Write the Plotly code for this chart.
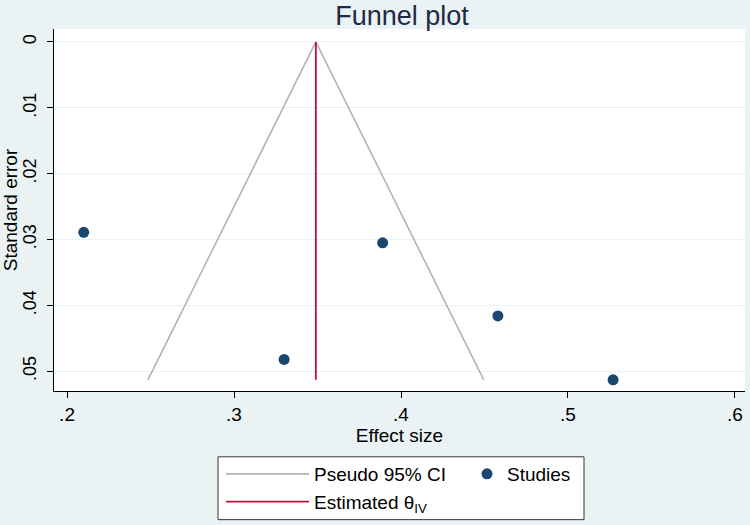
import plotly.graph_objects as go

# Data
effect_size = [0.210, 0.330, 0.389, 0.458, 0.527]
std_error = [0.0289, 0.0482, 0.0305, 0.0416, 0.0513]
theta_iv = 0.349
z95 = 1.96

x_tickvals = [0.2, 0.3, 0.4, 0.5, 0.6]
x_ticktext = [".2", ".3", ".4", ".5", ".6"]
y_tickvals = [0, 0.01, 0.02, 0.03, 0.04, 0.05]
y_ticktext = ["0", ".01", ".02", ".03", ".04", ".05"]

se_max = max(std_error)
ci_x = [theta_iv - z95 * se_max, theta_iv, theta_iv + z95 * se_max]
ci_y = [se_max, 0, se_max]

FONT = "Liberation Sans, Arial, sans-serif"
BG = "#eaf2f3"

fig = go.Figure()
fig.add_trace(go.Scatter(
    x=ci_x, y=ci_y, mode="lines", name="Pseudo 95% CI",
    line=dict(color="#b4b4b4", width=1.6), legend="legend"))
fig.add_trace(go.Scatter(
    x=[theta_iv, theta_iv], y=[0, se_max], mode="lines",
    name="Estimated θ<sub>IV</sub>",
    line=dict(color="#c0103a", width=1.8), legend="legend"))
fig.add_trace(go.Scatter(
    x=effect_size, y=std_error, mode="markers", name="Studies",
    marker=dict(color="#1a476f", size=11), legend="legend2"))

L, R, T, B = 54, 5, 29, 133
W, H = 750, 525
pw, ph = W - L - R, H - T - B

def px(xp):
    return (xp - L) / pw

def py(yp):
    return (H - B - yp) / ph

fig.update_layout(
    width=W, height=H,
    margin=dict(l=L, r=R, t=T, b=B),
    paper_bgcolor=BG, plot_bgcolor="white",
    font=dict(family=FONT, color="black", size=19),
    title=dict(text="Funnel plot", x=402 / W, xanchor="center", xref="container",
               y=1 - 16 / H, yanchor="middle", yref="container",
               font=dict(size=27, color="#1e2a47", family=FONT)),
    xaxis=dict(range=[0.1922, 0.606], tickvals=x_tickvals, ticktext=x_ticktext,
               showgrid=False, zeroline=False, showline=True, linecolor="black",
               linewidth=1, ticks="outside", ticklen=6, tickcolor="black",
               tickfont=dict(size=19),
               title=dict(text="Effect size", font=dict(size=19), standoff=0)),
    yaxis=dict(range=[0.053, -0.00197], tickvals=y_tickvals, ticktext=y_ticktext,
               showgrid=True, gridcolor=BG, gridwidth=1, zeroline=False,
               showline=True, linecolor="black", linewidth=1, ticks="outside",
               ticklen=6, tickcolor="black", tickangle=-90,
               ticklabelstandoff=4,
               tickfont=dict(size=18),
               title=dict(text="Standard error", font=dict(size=19), standoff=2)),
    legend=dict(x=px(221), y=py(455), xanchor="left", yanchor="top",
                bgcolor="rgba(0,0,0,0)", borderwidth=0, itemwidth=83,
                font=dict(size=19), tracegroupgap=0),
    legend2=dict(x=px(467), y=py(455), xanchor="left", yanchor="top",
                 bgcolor="rgba(0,0,0,0)", borderwidth=0,
                 font=dict(size=19)),
    shapes=[dict(type="rect", xref="paper", yref="paper",
                 x0=px(218), x1=px(584), y0=py(521), y1=py(458),
                 fillcolor="white", line=dict(color="#333333", width=1),
                 layer="below")],
)

fig.write_html("out.html", config={"displayModeBar": False},
               post_script="document.body.style.margin='0px';")
